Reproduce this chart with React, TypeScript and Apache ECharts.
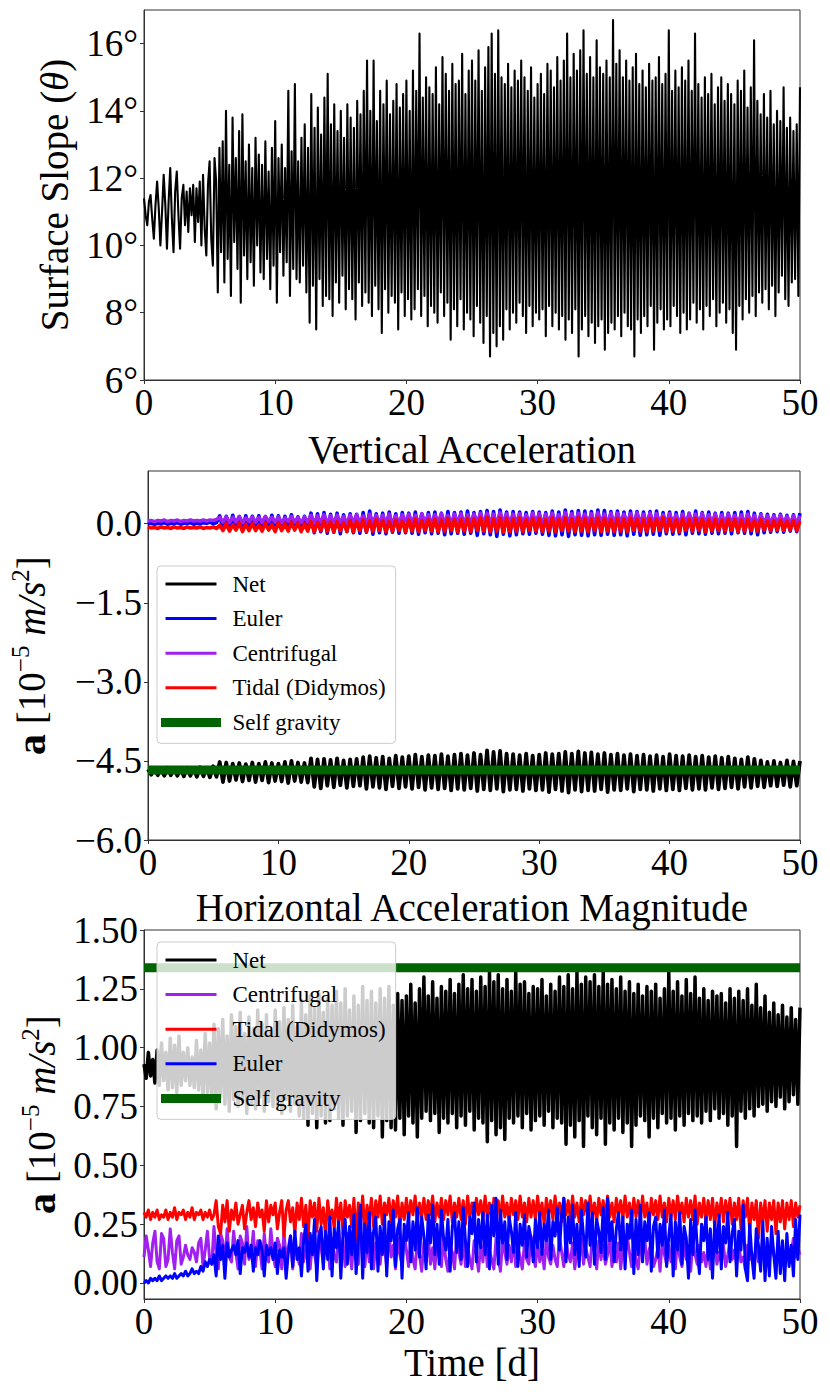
import React, { useEffect, useRef } from "react";
import * as echarts from "echarts";

// ---------------- data ----------------
const T_END = 50;
const X_TICKS = [0, 10, 20, 30, 40, 50];
const SLOPE_TICKS = [6, 8, 10, 12, 14, 16];
const V_TICKS = [-6, -4.5, -3, -1.5, 0];
const H_TICKS = [0, 0.25, 0.5, 0.75, 1, 1.25, 1.5];

// Surface slope, degrees, 8 samples per day
const SLOPE_DEG = [
  11.4, 10.9, 10.6, 11.3, 11.5, 10.8, 10.2, 11.2,
  11.9, 11.1, 10.0, 11.0, 12.1, 11.2, 9.9, 11.3,
  12.3, 10.8, 9.8, 11.6, 12.2, 10.9, 9.9, 11.4,
  11.8, 10.6, 11.6, 10.4, 11.7, 10.9, 11.8, 10.1,
  11.7, 10.7, 11.9, 10.0, 12.1, 10.5, 9.7, 11.8,
  12.5, 10.2, 9.4, 12.6, 11.9, 8.6, 12.9, 9.8,
  13.1, 8.9, 14.0, 9.6, 12.4, 8.5, 13.8, 10.1,
  12.6, 9.3, 13.4, 8.3, 13.9, 9.7, 12.5, 9.0,
  13.0, 9.5, 12.3, 8.8, 13.2, 10.0, 12.7, 9.2,
  12.4, 9.0, 13.1, 9.6, 12.2, 8.7, 12.9, 9.4,
  13.7, 8.3, 12.6, 9.8, 13.0, 9.1, 12.3, 9.5,
  14.6, 8.5, 12.8, 9.3, 14.8, 9.0, 12.5, 8.9,
  13.2, 9.4, 13.6, 8.6, 12.9, 7.7, 14.5, 8.8,
  13.5, 7.5, 14.1, 9.0, 13.3, 8.2, 14.4, 8.5,
  15.1, 8.4, 13.6, 7.9, 14.2, 8.9, 13.4, 8.3,
  14.0, 9.1, 13.2, 8.1, 14.2, 8.7, 13.8, 8.4,
  13.5, 7.8, 14.3, 8.9, 13.9, 8.2, 14.6, 8.6,
  15.5, 8.3, 14.0, 7.9, 15.5, 8.8, 13.7, 8.1,
  14.6, 7.4, 14.2, 8.7, 14.9, 8.0, 13.9, 8.5,
  14.3, 8.3, 14.8, 7.5, 14.1, 8.6, 14.5, 7.9,
  14.9, 8.4, 14.0, 7.8, 15.2, 8.1, 14.6, 8.7,
  16.3, 7.9, 14.4, 8.5, 15.0, 7.6, 14.7, 8.2,
  14.5, 8.0, 15.3, 7.7, 14.2, 8.6, 15.6, 7.9,
  15.1, 8.3, 14.6, 7.2, 15.4, 8.1, 14.8, 7.6,
  14.9, 8.4, 15.7, 7.5, 14.5, 8.0, 15.2, 7.8,
  15.5, 7.3, 14.9, 8.2, 15.8, 7.7, 14.6, 7.1,
  15.3, 7.9, 15.9, 6.7, 16.3, 7.4, 15.1, 7.0,
  16.4, 7.6, 15.0, 7.2, 14.8, 8.1, 15.4, 7.5,
  14.7, 8.0, 15.2, 7.7, 14.9, 8.3, 15.5, 7.9,
  15.0, 7.4, 14.6, 8.2, 15.3, 7.6, 14.4, 8.0,
  14.8, 7.8, 15.1, 8.1, 14.5, 7.3, 15.4, 8.2,
  15.2, 7.6, 14.7, 8.0, 15.6, 7.5, 14.9, 7.9,
  15.5, 7.2, 16.3, 7.8, 15.0, 7.4, 15.7, 8.1,
  15.2, 6.7, 15.8, 7.5, 16.4, 7.9, 15.1, 7.3,
  15.6, 7.7, 15.0, 7.1, 16.1, 7.6, 15.3, 7.8,
  15.1, 6.9, 15.5, 7.4, 15.0, 7.7, 16.7, 7.5,
  15.4, 7.9, 15.8, 7.3, 15.0, 8.0, 15.5, 7.6,
  14.9, 7.5, 15.3, 6.7, 15.7, 7.8, 14.8, 7.4,
  15.2, 7.9, 14.7, 7.6, 15.4, 8.2, 14.9, 6.9,
  15.0, 7.7, 15.6, 8.1, 14.8, 7.5, 15.1, 7.8,
  16.4, 7.6, 14.6, 8.2, 15.2, 7.9, 14.7, 7.4,
  15.3, 8.0, 14.9, 7.5, 15.5, 7.8, 14.6, 8.3,
  16.3, 7.7, 14.8, 8.1, 14.4, 7.5, 15.0, 8.2,
  14.5, 7.9, 15.1, 8.4, 14.2, 7.6, 14.7, 8.0,
  15.0, 8.3, 14.3, 7.7, 14.8, 8.1, 14.5, 7.4,
  14.2, 6.9, 14.9, 8.2, 14.6, 7.8, 15.2, 8.4,
  14.1, 8.0, 14.7, 8.5, 16.1, 7.9, 14.3, 8.6,
  13.9, 8.3, 14.5, 8.7, 13.8, 8.1, 14.6, 8.8,
  13.6, 7.9, 14.0, 8.6, 13.7, 9.1, 14.7, 8.4,
  13.5, 8.2, 13.8, 8.9, 13.4, 9.0, 13.6, 8.5,
  14.7,
];

// Vertical acceleration, 1e-5 m/s^2, 4 samples per day
const V_NET = [
  -4.66, -4.76, -4.64, -4.77, -4.65, -4.78, -4.63, -4.77,
  -4.64, -4.78, -4.65, -4.79, -4.63, -4.78, -4.64, -4.80,
  -4.62, -4.79, -4.63, -4.81, -4.60, -4.80, -4.52, -4.90,
  -4.53, -4.88, -4.55, -4.86, -4.54, -4.89, -4.56, -4.87,
  -4.53, -4.90, -4.55, -4.87, -4.52, -4.91, -4.54, -4.88,
  -4.55, -4.89, -4.52, -4.92, -4.50, -4.88, -4.53, -4.90,
  -4.54, -4.91, -4.45, -4.99, -4.47, -5.02, -4.46, -4.97,
  -4.48, -5.00, -4.45, -4.96, -4.49, -5.01, -4.47, -4.98,
  -4.46, -4.97, -4.43, -5.03, -4.41, -4.99, -4.44, -5.01,
  -4.42, -5.04, -4.45, -4.98, -4.40, -5.02, -4.43, -4.99,
  -4.41, -5.03, -4.38, -5.00, -4.42, -5.05, -4.39, -5.01,
  -4.40, -5.04, -4.37, -5.02, -4.41, -5.06, -4.38, -5.03,
  -4.36, -5.05, -4.39, -5.02, -4.35, -5.07, -4.38, -5.04,
  -4.30, -5.06, -4.33, -5.03, -4.31, -5.08, -4.36, -5.05,
  -4.37, -5.04, -4.39, -5.07, -4.36, -5.03, -4.40, -5.06,
  -4.38, -5.05, -4.35, -5.09, -4.37, -5.04, -4.36, -5.07,
  -4.33, -5.10, -4.36, -5.05, -4.32, -5.08, -4.35, -5.06,
  -4.34, -5.07, -4.37, -5.04, -4.35, -5.09, -4.38, -5.05,
  -4.36, -5.06, -4.39, -5.03, -4.37, -5.08, -4.40, -5.04,
  -4.38, -5.05, -4.41, -5.07, -4.39, -5.03, -4.42, -5.06,
  -4.37, -5.04, -4.40, -5.06, -4.41, -5.02, -4.39, -5.05,
  -4.42, -5.03, -4.40, -5.05, -4.43, -5.01, -4.41, -5.04,
  -4.44, -5.02, -4.42, -5.00, -4.45, -5.03, -4.47, -4.99,
  -4.43, -5.01, -4.46, -4.98, -4.49, -5.00, -4.52, -4.97,
  -4.50, -4.98, -4.53, -4.96, -4.49, -4.99, -4.51, -4.97,
  -4.50,
];
const V_EULER = [
  0.00, 0.01, -0.01, 0.01, 0.00, 0.02, -0.01, 0.01,
  0.00, 0.02, -0.01, 0.01, 0.01, 0.02, -0.01, 0.01,
  0.00, 0.02, 0.01, 0.03, 0.00, 0.02, 0.15, -0.10,
  0.14, -0.08, 0.16, -0.09, 0.13, -0.10, 0.15, -0.07,
  0.14, -0.09, 0.15, -0.10, 0.13, -0.08, 0.16, -0.09,
  0.15, -0.11, 0.14, -0.09, 0.17, -0.10, 0.13, -0.12,
  0.14, -0.10, 0.20, -0.17, 0.19, -0.15, 0.21, -0.18,
  0.18, -0.16, 0.20, -0.19, 0.17, -0.15, 0.19, -0.17,
  0.18, -0.18, 0.21, -0.16, 0.24, -0.20, 0.19, -0.17,
  0.20, -0.19, 0.22, -0.16, 0.19, -0.18, 0.21, -0.17,
  0.20, -0.18, 0.22, -0.20, 0.19, -0.17, 0.21, -0.19,
  0.22, -0.18, 0.20, -0.21, 0.23, -0.19, 0.21, -0.18,
  0.22, -0.20, 0.24, -0.18, 0.21, -0.22, 0.23, -0.19,
  0.25, -0.21, 0.23, -0.24, 0.26, -0.20, 0.22, -0.23,
  0.23, -0.21, 0.22, -0.19, 0.21, -0.20, 0.23, -0.18,
  0.22, -0.20, 0.21, -0.22, 0.24, -0.23, 0.22, -0.21,
  0.26, -0.24, 0.23, -0.21, 0.25, -0.22, 0.24, -0.23,
  0.23, -0.21, 0.26, -0.22, 0.25, -0.20, 0.23, -0.22,
  0.24, -0.21, 0.22, -0.23, 0.24, -0.20, 0.23, -0.22,
  0.22, -0.21, 0.23, -0.20, 0.24, -0.22, 0.21, -0.19,
  0.22, -0.20, 0.21, -0.19, 0.23, -0.21, 0.20, -0.18,
  0.24, -0.19, 0.21, -0.20, 0.22, -0.18, 0.20, -0.19,
  0.21, -0.18, 0.20, -0.19, 0.21, -0.17, 0.22, -0.18,
  0.23, -0.19, 0.20, -0.21, 0.19, -0.17, 0.18, -0.16,
  0.17, -0.15, 0.18, -0.16, 0.16, -0.14, 0.17, -0.15,
  0.20,
];
const V_CENT = [
  0.05, 0.06, 0.04, 0.06, 0.05, 0.07, 0.04, 0.06,
  0.05, 0.07, 0.04, 0.06, 0.05, 0.07, 0.05, 0.06,
  0.05, 0.07, 0.05, 0.07, 0.06, 0.08, 0.12, 0.03,
  0.13, 0.02, 0.12, 0.03, 0.14, 0.02, 0.11, 0.04,
  0.13, 0.03, 0.12, 0.02, 0.14, 0.04, 0.12, 0.03,
  0.13, 0.02, 0.11, 0.04, 0.14, 0.03, 0.12, 0.02,
  0.13, 0.03, 0.16, 0.01, 0.15, 0.02, 0.17, 0.00,
  0.15, 0.01, 0.16, 0.02, 0.14, 0.00, 0.16, 0.02,
  0.17, 0.01, 0.15, 0.00, 0.18, 0.02, 0.16, 0.01,
  0.16, 0.02, 0.18, 0.00, 0.15, 0.01, 0.17, 0.02,
  0.18, 0.01, 0.16, 0.00, 0.19, 0.02, 0.17, 0.00,
  0.17, 0.02, 0.19, 0.01, 0.16, 0.00, 0.18, 0.02,
  0.19, 0.00, 0.17, 0.01, 0.18, 0.02, 0.20, 0.00,
  0.20, 0.01, 0.18, 0.00, 0.21, 0.02, 0.19, 0.01,
  0.18, 0.02, 0.19, 0.00, 0.17, 0.01, 0.20, 0.02,
  0.19, 0.00, 0.18, 0.02, 0.20, 0.01, 0.17, 0.00,
  0.21, 0.01, 0.19, 0.00, 0.20, 0.02, 0.18, 0.01,
  0.19, 0.00, 0.21, 0.02, 0.18, 0.01, 0.20, 0.00,
  0.20, 0.02, 0.18, 0.01, 0.19, 0.00, 0.21, 0.02,
  0.18, 0.01, 0.20, 0.00, 0.19, 0.02, 0.17, 0.01,
  0.19, 0.02, 0.17, 0.00, 0.18, 0.01, 0.19, 0.02,
  0.18, 0.00, 0.19, 0.01, 0.17, 0.02, 0.18, 0.00,
  0.17, 0.01, 0.18, 0.02, 0.16, 0.00, 0.17, 0.01,
  0.18, 0.02, 0.16, 0.00, 0.17, 0.01, 0.15, 0.02,
  0.15, 0.01, 0.16, 0.02, 0.14, 0.00, 0.15, 0.01,
  0.15,
];
const V_TIDAL = [
  -0.06, -0.08, -0.07, -0.09, -0.06, -0.08, -0.07, -0.09,
  -0.06, -0.08, -0.07, -0.09, -0.06, -0.08, -0.07, -0.08,
  -0.06, -0.09, -0.07, -0.08, -0.06, -0.09, -0.03, -0.13,
  0.00, -0.14, -0.02, -0.12, 0.01, -0.15, -0.01, -0.13,
  0.00, -0.13, -0.02, -0.14, 0.01, -0.12, -0.01, -0.15,
  0.02, -0.13, 0.00, -0.14, 0.03, -0.12, 0.01, -0.15,
  0.00, -0.14, 0.04, -0.15, 0.02, -0.13, 0.05, -0.14,
  0.03, -0.15, 0.04, -0.13, 0.02, -0.14, 0.06, -0.15,
  0.04, -0.13, 0.07, -0.15, 0.05, -0.14, 0.08, -0.13,
  0.06, -0.15, 0.04, -0.14, 0.07, -0.13, 0.05, -0.15,
  0.07, -0.14, 0.09, -0.15, 0.06, -0.13, 0.08, -0.14,
  0.09, -0.15, 0.07, -0.14, 0.10, -0.13, 0.08, -0.15,
  0.08, -0.14, 0.10, -0.15, 0.09, -0.13, 0.11, -0.14,
  0.12, -0.15, 0.09, -0.14, 0.11, -0.16, 0.10, -0.15,
  0.09, -0.14, 0.11, -0.15, 0.08, -0.13, 0.10, -0.14,
  0.10, -0.15, 0.08, -0.14, 0.11, -0.15, 0.09, -0.13,
  0.11, -0.14, 0.09, -0.15, 0.12, -0.14, 0.10, -0.15,
  0.09, -0.13, 0.11, -0.15, 0.10, -0.14, 0.08, -0.15,
  0.10, -0.14, 0.09, -0.15, 0.11, -0.13, 0.09, -0.14,
  0.08, -0.15, 0.10, -0.14, 0.09, -0.13, 0.11, -0.15,
  0.09, -0.14, 0.08, -0.15, 0.10, -0.13, 0.08, -0.14,
  0.10, -0.13, 0.09, -0.15, 0.08, -0.14, 0.09, -0.13,
  0.07, -0.14, 0.09, -0.13, 0.08, -0.15, 0.07, -0.14,
  0.08, -0.13, 0.06, -0.14, 0.08, -0.12, 0.05, -0.13,
  0.06, -0.12, 0.07, -0.13, 0.05, -0.12, 0.06, -0.13,
  0.05,
];
const V_SELF = -4.67;

// Horizontal acceleration magnitude, 1e-5 m/s^2, 6 samples per day
const H_NET = [
  0.93, 0.87, 0.98, 0.88, 0.95, 0.85,
  0.99, 0.84, 1.02, 0.86, 0.98, 0.82,
  1.04, 0.83, 1.01, 0.81, 1.05, 0.84,
  0.98, 0.86, 1.00, 0.84, 0.96, 0.83,
  1.03, 0.82, 0.99, 0.80, 1.06, 0.81,
  1.02, 0.78, 1.10, 0.74, 1.08, 0.79,
  1.12, 0.76, 1.05, 0.73, 1.14, 0.78,
  1.09, 0.75, 1.15, 0.77, 1.06, 0.72,
  1.13, 0.76, 1.08, 0.74, 1.16, 0.79,
  1.10, 0.73, 1.14, 0.77, 1.07, 0.75,
  1.16, 0.74, 1.11, 0.72, 1.17, 0.78,
  1.12, 0.73, 1.18, 0.76, 1.09, 0.71,
  1.20, 0.70, 1.14, 0.67, 1.22, 0.72,
  1.17, 0.66, 1.23, 0.71, 1.15, 0.68,
  1.21, 0.69, 1.18, 0.74, 1.24, 0.70,
  1.19, 0.67, 1.25, 0.71, 1.16, 0.73,
  1.22, 0.64, 1.18, 0.69, 1.26, 0.72,
  1.20, 0.68, 1.24, 0.66, 1.19, 0.71,
  1.25, 0.62, 1.21, 0.69, 1.26, 0.66,
  1.18, 0.65, 1.23, 0.70, 1.20, 0.63,
  1.22, 0.71, 1.27, 0.68, 1.19, 0.62,
  1.25, 0.70, 1.30, 0.73, 1.22, 0.69,
  1.28, 0.72, 1.21, 0.64, 1.26, 0.70,
  1.24, 0.68, 1.29, 0.72, 1.23, 0.66,
  1.27, 0.71, 1.31, 0.67, 1.25, 0.73,
  1.29, 0.65, 1.24, 0.70, 1.30, 0.68,
  1.26, 0.60, 1.32, 0.69, 1.28, 0.63,
  1.31, 0.66, 1.25, 0.61, 1.29, 0.70,
  1.24, 0.68, 1.32, 0.71, 1.27, 0.66,
  1.28, 0.72, 1.23, 0.65, 1.26, 0.69,
  1.25, 0.71, 1.29, 0.67, 1.22, 0.73,
  1.27, 0.66, 1.24, 0.70, 1.30, 0.68,
  1.26, 0.59, 1.31, 0.67, 1.25, 0.62,
  1.32, 0.69, 1.27, 0.58, 1.30, 0.71,
  1.28, 0.66, 1.31, 0.63, 1.26, 0.70,
  1.32, 0.59, 1.27, 0.68, 1.29, 0.65,
  1.25, 0.70, 1.30, 0.64, 1.24, 0.68,
  1.28, 0.58, 1.23, 0.67, 1.27, 0.71,
  1.22, 0.69, 1.26, 0.62, 1.24, 0.70,
  1.27, 0.66, 1.21, 0.72, 1.25, 0.68,
  1.32, 0.70, 1.24, 0.65, 1.28, 0.71,
  1.22, 0.67, 1.29, 0.72, 1.23, 0.69,
  1.30, 0.71, 1.21, 0.68, 1.25, 0.73,
  1.20, 0.69, 1.24, 0.74, 1.22, 0.70,
  1.23, 0.72, 1.19, 0.67, 1.25, 0.71,
  1.21, 0.58, 1.24, 0.73, 1.20, 0.70,
  1.25, 0.74, 1.18, 0.71, 1.27, 0.75,
  1.17, 0.76, 1.22, 0.73, 1.15, 0.77,
  1.19, 0.75, 1.14, 0.79, 1.18, 0.74,
  1.13, 0.77, 1.17, 0.80, 1.12, 0.76,
  1.17,
];
const H_CENT = [
  0.11, 0.20, 0.14, 0.07, 0.17, 0.22,
  0.09, 0.06, 0.21, 0.19, 0.07, 0.10,
  0.23, 0.13, 0.06, 0.18, 0.20, 0.08,
  0.11, 0.16, 0.12, 0.10, 0.15, 0.13,
  0.09, 0.17, 0.19, 0.07, 0.14, 0.22,
  0.10, 0.08, 0.24, 0.12, 0.06, 0.21,
  0.18, 0.07, 0.23, 0.11, 0.09, 0.22,
  0.13, 0.06, 0.20, 0.17, 0.08, 0.24,
  0.10, 0.12, 0.22, 0.07, 0.18, 0.14,
  0.06, 0.21, 0.11, 0.09, 0.23, 0.13,
  0.07, 0.19, 0.16, 0.06, 0.22, 0.10,
  0.15, 0.20, 0.06, 0.17, 0.12, 0.08,
  0.21, 0.09, 0.14, 0.23, 0.06, 0.18,
  0.12, 0.07, 0.22, 0.15, 0.08, 0.20,
  0.17, 0.06, 0.19, 0.11, 0.09, 0.23,
  0.10, 0.18, 0.07, 0.21, 0.14, 0.06,
  0.20, 0.12, 0.08, 0.22, 0.16, 0.07,
  0.19, 0.09, 0.21, 0.06, 0.17, 0.13,
  0.08, 0.20, 0.15, 0.07, 0.22, 0.11,
  0.16, 0.06, 0.19, 0.12, 0.08, 0.21,
  0.14, 0.07, 0.19, 0.10, 0.06, 0.18,
  0.12, 0.05, 0.17, 0.09, 0.20, 0.08,
  0.15, 0.06, 0.18, 0.11, 0.07, 0.19,
  0.10, 0.05, 0.16, 0.13, 0.06, 0.20,
  0.13, 0.08, 0.19, 0.07, 0.15, 0.10,
  0.06, 0.18, 0.12, 0.05, 0.17, 0.09,
  0.20, 0.07, 0.14, 0.10, 0.06, 0.19,
  0.11, 0.05, 0.18, 0.13, 0.08, 0.16,
  0.09, 0.19, 0.07, 0.15, 0.11, 0.06,
  0.17, 0.10, 0.08, 0.20, 0.12, 0.07,
  0.18, 0.09, 0.14, 0.06, 0.19, 0.11,
  0.08, 0.16, 0.10, 0.07, 0.20, 0.13,
  0.07, 0.18, 0.12, 0.09, 0.17, 0.06,
  0.14, 0.10, 0.19, 0.08, 0.15, 0.11,
  0.07, 0.20, 0.13, 0.06, 0.18, 0.10,
  0.16, 0.08, 0.12, 0.19, 0.07, 0.14,
  0.09, 0.17, 0.06, 0.15, 0.11, 0.20,
  0.13, 0.07, 0.18, 0.10, 0.06, 0.16,
  0.12, 0.19, 0.08, 0.14, 0.17, 0.07,
  0.10, 0.15, 0.05, 0.18, 0.12, 0.08,
  0.16, 0.09, 0.13, 0.06, 0.19, 0.11,
  0.07, 0.17, 0.10, 0.14, 0.05, 0.18,
  0.12, 0.08, 0.16, 0.09, 0.13, 0.07,
  0.15, 0.06, 0.11, 0.17, 0.08, 0.13,
  0.09, 0.16, 0.07, 0.12, 0.18, 0.10,
  0.14, 0.08, 0.17, 0.09, 0.11, 0.06,
  0.16, 0.10, 0.13, 0.07, 0.17, 0.09,
  0.11, 0.18, 0.08, 0.15, 0.10, 0.19,
  0.12, 0.09, 0.17, 0.11, 0.14, 0.08,
  0.16, 0.10, 0.13, 0.19, 0.11, 0.15,
  0.12,
];
const H_TIDAL = [
  0.30, 0.28, 0.31, 0.27, 0.30, 0.28,
  0.31, 0.27, 0.29, 0.28, 0.31, 0.27,
  0.30, 0.28, 0.32, 0.27, 0.30, 0.29,
  0.31, 0.27, 0.30, 0.28, 0.32, 0.27,
  0.30, 0.29, 0.31, 0.27, 0.30, 0.28,
  0.31, 0.27, 0.29, 0.35, 0.24, 0.21,
  0.33, 0.26, 0.35, 0.22, 0.31, 0.27,
  0.34, 0.25, 0.29, 0.33, 0.23, 0.30,
  0.35, 0.27, 0.32, 0.24, 0.34, 0.28,
  0.31, 0.22, 0.35, 0.26, 0.33, 0.29,
  0.34, 0.23, 0.30, 0.35, 0.20, 0.31,
  0.35, 0.26, 0.32, 0.21, 0.34, 0.27,
  0.36, 0.24, 0.33, 0.19, 0.35, 0.28,
  0.34, 0.22, 0.36, 0.25, 0.32, 0.20,
  0.35, 0.27, 0.31, 0.23, 0.36, 0.26,
  0.34, 0.21, 0.35, 0.28, 0.33, 0.24,
  0.36, 0.18, 0.34, 0.26, 0.37, 0.22,
  0.33, 0.27, 0.36, 0.24, 0.35, 0.28,
  0.37, 0.25, 0.34, 0.29, 0.36, 0.26,
  0.35, 0.28, 0.37, 0.24, 0.34, 0.27,
  0.36, 0.27, 0.35, 0.29, 0.37, 0.26,
  0.34, 0.28, 0.36, 0.27, 0.35, 0.29,
  0.37, 0.26, 0.34, 0.28, 0.36, 0.27,
  0.35, 0.29, 0.37, 0.26, 0.34, 0.28,
  0.36, 0.27, 0.35, 0.25, 0.37, 0.28,
  0.34, 0.26, 0.36, 0.29, 0.35, 0.27,
  0.37, 0.28, 0.34, 0.26, 0.36, 0.29,
  0.35, 0.27, 0.37, 0.28, 0.34, 0.26,
  0.36, 0.29, 0.35, 0.27, 0.37, 0.28,
  0.34, 0.26, 0.36, 0.28, 0.35, 0.27,
  0.37, 0.28, 0.34, 0.25, 0.36, 0.29,
  0.35, 0.27, 0.37, 0.28, 0.34, 0.26,
  0.36, 0.29, 0.35, 0.27, 0.37, 0.28,
  0.34, 0.26, 0.36, 0.29, 0.35, 0.27,
  0.37, 0.28, 0.34, 0.26, 0.36, 0.29,
  0.35, 0.27, 0.37, 0.28, 0.34, 0.26,
  0.36, 0.29, 0.35, 0.27, 0.37, 0.28,
  0.34, 0.26, 0.36, 0.28, 0.35, 0.27,
  0.37, 0.28, 0.34, 0.24, 0.36, 0.29,
  0.35, 0.27, 0.37, 0.28, 0.34, 0.26,
  0.36, 0.28, 0.35, 0.27, 0.37, 0.29,
  0.34, 0.26, 0.36, 0.28, 0.35, 0.27,
  0.37, 0.25, 0.34, 0.28, 0.36, 0.26,
  0.35, 0.27, 0.36, 0.24, 0.34, 0.28,
  0.36, 0.26, 0.35, 0.28, 0.36, 0.25,
  0.34, 0.27, 0.36, 0.23, 0.35, 0.28,
  0.36, 0.22, 0.34, 0.27, 0.35, 0.19,
  0.34, 0.26, 0.35, 0.22, 0.34, 0.27,
  0.35, 0.21, 0.34, 0.26, 0.35, 0.23,
  0.34, 0.27, 0.35, 0.24, 0.34, 0.28,
  0.33,
];
const H_EULER = [
  0.00, 0.01, 0.00, 0.02, 0.01, 0.02,
  0.01, 0.03, 0.01, 0.02, 0.03, 0.02,
  0.03, 0.02, 0.04, 0.02, 0.03, 0.04,
  0.03, 0.05, 0.03, 0.04, 0.06, 0.04,
  0.05, 0.04, 0.07, 0.05, 0.09, 0.07,
  0.10, 0.08, 0.12, 0.03, 0.20, 0.10,
  0.16, 0.02, 0.17, 0.11, 0.14, 0.16,
  0.12, 0.18, 0.04, 0.15, 0.13, 0.17,
  0.11, 0.16, 0.05, 0.15, 0.12, 0.18,
  0.14, 0.03, 0.16, 0.12, 0.15, 0.10,
  0.17, 0.04, 0.14, 0.11, 0.15, 0.02,
  0.13, 0.20, 0.07, 0.22, 0.10, 0.15,
  0.03, 0.18, 0.25, 0.05, 0.21, 0.12,
  0.27, 0.01, 0.19, 0.24, 0.06, 0.22,
  0.10, 0.28, 0.03, 0.23, 0.15, 0.26,
  0.02, 0.21, 0.27, 0.08, 0.24, 0.12,
  0.29, 0.04, 0.18, 0.33, 0.02, 0.25,
  0.13, 0.30, 0.06, 0.22, 0.28, 0.05,
  0.24, 0.12, 0.29, 0.03, 0.26, 0.18,
  0.31, 0.07, 0.23, 0.27, 0.02, 0.25,
  0.18, 0.30, 0.09, 0.26, 0.14, 0.32,
  0.11, 0.28, 0.20, 0.06, 0.29, 0.17,
  0.33, 0.12, 0.25, 0.08, 0.31, 0.19,
  0.14, 0.27, 0.05, 0.24, 0.30, 0.13,
  0.26, 0.10, 0.32, 0.18, 0.07, 0.28,
  0.21, 0.34, 0.09, 0.27, 0.15, 0.30,
  0.12, 0.29, 0.06, 0.33, 0.20, 0.36,
  0.08, 0.31, 0.17, 0.26, 0.10, 0.28,
  0.22, 0.13, 0.30, 0.07, 0.25, 0.16,
  0.29, 0.11, 0.24, 0.19, 0.09, 0.27,
  0.15, 0.30, 0.12, 0.25, 0.18, 0.31,
  0.10, 0.26, 0.20, 0.32, 0.14, 0.29,
  0.36, 0.09, 0.28, 0.17, 0.33, 0.12,
  0.25, 0.07, 0.31, 0.20, 0.11, 0.34,
  0.16, 0.30, 0.08, 0.27, 0.22, 0.13,
  0.32, 0.10, 0.36, 0.18, 0.26, 0.09,
  0.23, 0.30, 0.14, 0.28, 0.06, 0.25,
  0.19, 0.31, 0.04, 0.27, 0.12, 0.33,
  0.09, 0.26, 0.18, 0.30, 0.05, 0.24,
  0.28, 0.11, 0.25, 0.16, 0.31, 0.07,
  0.20, 0.29, 0.03, 0.26, 0.14, 0.30,
  0.08, 0.24, 0.19, 0.02, 0.27, 0.12,
  0.31, 0.15, 0.04, 0.25, 0.18, 0.28,
  0.10, 0.23, 0.02, 0.26, 0.13, 0.29,
  0.06, 0.24, 0.17, 0.30, 0.09, 0.21,
  0.27, 0.03, 0.22, 0.14, 0.33, 0.06,
  0.01, 0.25, 0.11, 0.02, 0.23, 0.16,
  0.05, 0.26, 0.01, 0.19, 0.03, 0.24,
  0.12, 0.02, 0.22, 0.04, 0.18, 0.01,
  0.21, 0.07, 0.16, 0.03, 0.27, 0.10,
  0.29,
];
const H_SELF = 1.34;

// ---------------- styling ----------------
const SERIF = "Liberation Serif";
const AXIS_COLOR = "#333";
const TICK_FS = 37;
const NAME_FS = 39;
const C_NET = "#000000";
const C_EULER = "#0000ff";
const C_CENT = "#a020f0";
const C_TIDAL = "#ff0000";
const C_SELF = "#006400";

const tickRich = { t: { fontFamily: SERIF, fontSize: TICK_FS, color: "#000" } };
const nameRich = {
  t: { fontFamily: SERIF, fontSize: NAME_FS, color: "#000" },
  i: { fontFamily: SERIF, fontSize: NAME_FS, fontStyle: "italic", color: "#000" },
  b: { fontFamily: SERIF, fontSize: 42, fontWeight: "bold", color: "#000" },
  sup: { fontFamily: SERIF, fontSize: 25, color: "#000", verticalAlign: "top", lineHeight: 46 },
};

function toPairs(values: number[]): number[][] {
  const dt = T_END / (values.length - 1);
  return values.map((v, i) => [i * dt, v]);
}

function constant(v: number): number[][] {
  return [
    [0, v],
    [T_END, v],
  ];
}

const minus = (s: string) => s.replace("-", "\u2212");

function lineSeries(name: string, data: number[][], color: string, width: number, idx: number) {
  return {
    type: "line",
    name,
    xAxisIndex: idx,
    yAxisIndex: idx,
    data,
    showSymbol: false,
    symbol: "none",
    silent: true,
    clip: true,
    lineStyle: { color, width, join: "round" },
    itemStyle: { color },
    emphasis: { disabled: true },
  };
}

function xAxis(idx: number, withName: boolean) {
  return {
    type: "value",
    gridIndex: idx,
    min: 0,
    max: T_END,
    interval: 10,
    axisLine: { show: true, onZero: false, lineStyle: { color: AXIS_COLOR, width: 1 } },
    axisTick: { show: true, length: 4, lineStyle: { color: AXIS_COLOR } },
    axisLabel: {
      customValues: X_TICKS,
      formatter: (v: number) => `{t|${v}}`,
      rich: tickRich,
      fontFamily: SERIF,
      fontSize: TICK_FS,
      color: "#000",
      margin: 4,
    },
    splitLine: { show: false },
    name: withName ? "{t|Time [d]}" : "",
    nameLocation: "middle",
    nameGap: 44,
    nameTextStyle: { fontFamily: SERIF, fontSize: NAME_FS, color: "#000", rich: nameRich },
  };
}

const accelName = "{b|a}{t| [10}{sup|\u22125}{t| }{i|m/s}{sup|2}{t|]}";

function legendOpt(top: number, names: string[]) {
  return {
    show: true,
    orient: "vertical",
    left: 157,
    top,
    data: names.map((n) =>
      n === "Self gravity" ? { name: n, lineStyle: { width: 9, cap: "square" } } : { name: n }
    ),
    itemWidth: 51,
    itemHeight: 14,
    itemGap: 10.6,
    padding: [6, 10, 9, 4],
    backgroundColor: "rgba(255,255,255,0.8)",
    borderColor: "#cccccc",
    borderWidth: 1,
    borderRadius: 4,
    selectedMode: false,
    itemStyle: { opacity: 0 },
    lineStyle: { width: 3 },
    textStyle: {
      fontFamily: SERIF,
      fontSize: 23,
      color: "#000",
      lineHeight: 24,
      padding: [0, 0, 0, 11],
    },
    z: 10,
  };
}

function yAxis(idx: number, min: number, max: number, ticks: number[], fmt: (v: number) => string, name: string, gap: number) {
  return {
    type: "value",
    gridIndex: idx,
    min,
    max,
    axisLine: { show: true, lineStyle: { color: AXIS_COLOR } },
    axisTick: { show: true, length: 4, customValues: ticks, lineStyle: { color: AXIS_COLOR } },
    axisLabel: {
      customValues: ticks,
      formatter: (v: number) => `{t|${fmt(v)}}`,
      rich: tickRich,
      fontFamily: SERIF,
      fontSize: TICK_FS,
      color: "#000",
      margin: 6,
    },
    splitLine: { show: false },
    name,
    nameLocation: "middle",
    nameRotate: 90,
    nameGap: gap,
    nameTextStyle: { fontFamily: SERIF, fontSize: NAME_FS, color: "#000", rich: nameRich },
  };
}

function buildOption() {
  return {
    animation: false,
    backgroundColor: "#ffffff",
    textStyle: { fontFamily: SERIF, color: "#000" },
    title: [
      {
        text: "{t|Vertical Acceleration}",
        left: 472,
        top: 430,
        textAlign: "center",
        padding: 0,
        textStyle: { fontFamily: SERIF, fontSize: NAME_FS, fontWeight: "normal", color: "#000", rich: nameRich },
      },
      {
        text: "{t|Horizontal Acceleration Magnitude}",
        left: 472,
        top: 888,
        textAlign: "center",
        padding: 0,
        textStyle: { fontFamily: SERIF, fontSize: NAME_FS, fontWeight: "normal", color: "#000", rich: nameRich },
      },
    ],
    grid: [
      { left: 144, width: 656, top: 10, height: 370, show: true, borderColor: AXIS_COLOR, borderWidth: 1, backgroundColor: "transparent" },
      { left: 144, width: 656, top: 471, height: 369, show: true, borderColor: AXIS_COLOR, borderWidth: 1, backgroundColor: "transparent" },
      { left: 144, width: 656, top: 930, height: 369, show: true, borderColor: AXIS_COLOR, borderWidth: 1, backgroundColor: "transparent" },
    ],
    xAxis: [xAxis(0, false), xAxis(1, false), xAxis(2, true)],
    yAxis: [
      yAxis(0, 6, 17, SLOPE_TICKS, (v) => `${v}\u00b0`, "{t|Surface Slope (}{i|\u03b8}{t|)}", 70),
      yAxis(1, -6, 1, V_TICKS, (v) => minus(v.toFixed(1)), accelName, 94),
      yAxis(2, -0.068, 1.5, H_TICKS, (v) => v.toFixed(2), accelName, 78),
    ],
    legend: [
      legendOpt(566, ["Net", "Euler", "Centrifugal", "Tidal (Didymos)", "Self gravity"]),
      legendOpt(942, ["Net", "Centrifugal", "Tidal (Didymos)", "Euler", "Self gravity"]),
    ],
    series: [
      lineSeries("Surface slope", toPairs(SLOPE_DEG), "#000000", 2.1, 0),

      lineSeries("Net", toPairs(V_NET), C_NET, 3.8, 1),
      lineSeries("Euler", toPairs(V_EULER), C_EULER, 3.6, 1),
      lineSeries("Centrifugal", toPairs(V_CENT), C_CENT, 3.6, 1),
      lineSeries("Tidal (Didymos)", toPairs(V_TIDAL), C_TIDAL, 3.6, 1),
      lineSeries("Self gravity", constant(V_SELF), C_SELF, 9, 1),

      lineSeries("Net", toPairs(H_NET), C_NET, 3.5, 2),
      lineSeries("Centrifugal", toPairs(H_CENT), C_CENT, 3, 2),
      lineSeries("Tidal (Didymos)", toPairs(H_TIDAL), C_TIDAL, 3, 2),
      lineSeries("Euler", toPairs(H_EULER), C_EULER, 3, 2),
      lineSeries("Self gravity", constant(H_SELF), C_SELF, 9, 2),
    ],
  };
}

export default function App() {
  const ref = useRef<HTMLDivElement>(null);
  useEffect(() => {
    if (!ref.current) return;
    const chart = echarts.init(ref.current, null, { renderer: "svg" });
    chart.setOption(buildOption() as any);
    return () => {
      chart.dispose();
    };
  }, []);
  return (
    <div
      ref={ref}
      style={{ position: "absolute", left: 0, top: 0, width: 830, height: 1398, background: "#ffffff" }}
    />
  );
}
